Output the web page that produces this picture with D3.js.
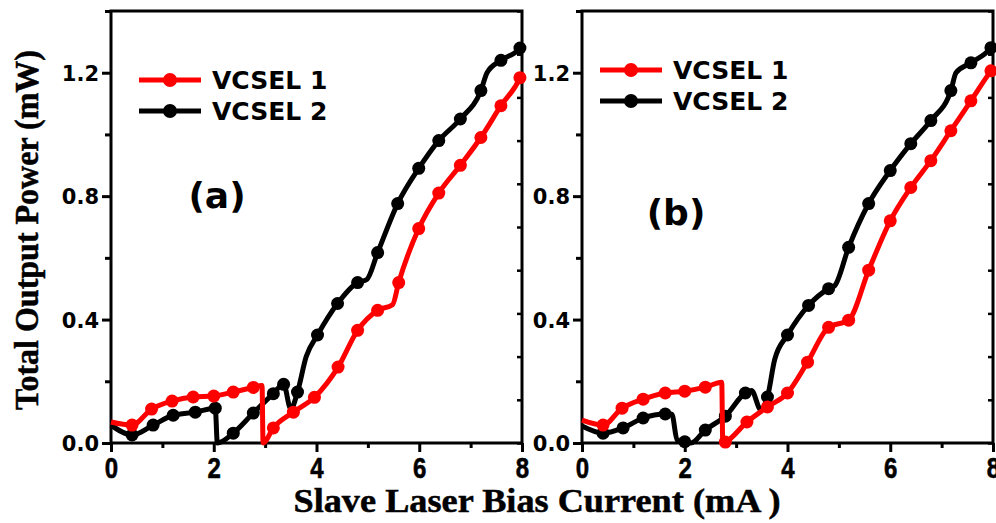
<!DOCTYPE html>
<html>
<head>
<meta charset="utf-8">
<script src="https://cdn.jsdelivr.net/npm/d3@7"></script>
<style>
  html, body { margin: 0; padding: 0; background: #fff; }
  svg { display: block; }
</style>
</head>
<body>
<svg id="chart" width="996" height="523"></svg>
<script>
// Tick values and labels
const xMajorTicks = [0, 2, 4, 6, 8];
const xMinorTicks = [1, 3, 5, 7];
const yMajorTicks = [0, 0.4, 0.8, 1.2];
const yMinorTicks = [0.2, 0.6, 1.0, 1.4];
const yRightTicks = [0, 0.14, 0.28, 0.42, 0.56, 0.7, 0.84, 0.98, 1.12, 1.26, 1.4];

const seriesNames = ["VCSEL 1", "VCSEL 2"];
const seriesColors = ["#ff0000", "#000000"];
const panelLabels = ["(a)", "(b)"];

// Each point: [bias current (mA), total output power (mW), 1 = symbol drawn]
const vcsel1A = [
  [0, 0.068, 0], [0.41, 0.058, 1], [0.79, 0.11, 1], [1.19, 0.136, 1], [1.6, 0.149, 1],
  [2.0, 0.152, 1], [2.38, 0.165, 1], [2.77, 0.18, 1], [2.94, 0.186, 0], [2.96, 0.0, 0],
  [3.16, 0.049, 1], [3.55, 0.1, 1], [3.96, 0.148, 1], [4.42, 0.246, 1], [4.8, 0.365, 1],
  [5.19, 0.43, 1], [5.48, 0.448, 0], [5.6, 0.52, 1], [5.99, 0.695, 1], [6.38, 0.81, 1],
  [6.8, 0.9, 1], [7.2, 0.99, 1], [7.59, 1.093, 1], [7.96, 1.184, 1], [8.0, 1.2, 0]
];
const vcsel2A = [
  [0, 0.058, 0], [0.41, 0.026, 1], [0.82, 0.058, 1], [1.21, 0.09, 1], [1.64, 0.1, 1],
  [2.03, 0.113, 1], [2.07, 0.0, 0], [2.38, 0.032, 1], [2.77, 0.097, 1], [3.16, 0.16, 1],
  [3.36, 0.19, 1], [3.5, 0.11, 0], [3.63, 0.165, 1], [3.8, 0.28, 0], [4.02, 0.35, 1],
  [4.41, 0.452, 1], [4.8, 0.52, 1], [4.98, 0.53, 0], [5.19, 0.617, 1], [5.58, 0.776, 1],
  [5.99, 0.89, 1], [6.38, 0.98, 1], [6.8, 1.05, 1], [7.2, 1.142, 1], [7.32, 1.2, 0],
  [7.59, 1.24, 1], [7.96, 1.28, 1], [8.0, 1.29, 0]
];
const vcsel1B = [
  [0, 0.074, 0], [0.41, 0.058, 1], [0.78, 0.113, 1], [1.19, 0.142, 1], [1.62, 0.162, 1],
  [2.0, 0.168, 1], [2.4, 0.181, 1], [2.72, 0.197, 0], [2.74, 0.0, 0], [2.79, 0.003, 1],
  [3.21, 0.068, 1], [3.61, 0.117, 1], [4.0, 0.162, 1], [4.39, 0.262, 1], [4.8, 0.375, 1],
  [5.19, 0.398, 1], [5.58, 0.56, 1], [6.0, 0.72, 1], [6.4, 0.828, 1], [6.79, 0.915, 1],
  [7.18, 1.012, 1], [7.57, 1.109, 1], [7.96, 1.206, 1], [8.0, 1.215, 0]
];
const vcsel2B = [
  [0, 0.055, 0], [0.41, 0.032, 1], [0.8, 0.049, 1], [1.19, 0.081, 1], [1.62, 0.094, 1],
  [1.75, 0.093, 0], [1.85, 0.01, 0], [2.0, 0.004, 1], [2.12, 0.0, 0], [2.4, 0.042, 1],
  [2.79, 0.087, 1], [3.18, 0.162, 1], [3.3, 0.17, 0], [3.48, 0.108, 0], [3.61, 0.149, 1],
  [3.75, 0.27, 0], [4.0, 0.35, 1], [4.41, 0.446, 1], [4.8, 0.5, 1], [4.92, 0.51, 0],
  [5.19, 0.634, 1], [5.58, 0.776, 1], [6.0, 0.883, 1], [6.4, 0.97, 1], [6.79, 1.045, 1],
  [7.18, 1.142, 1], [7.28, 1.2, 0], [7.57, 1.232, 1], [7.96, 1.281, 1], [8.0, 1.29, 0]
];

const panels = [
  { left: 111, right: 522, label: panelLabels[0], labelPos: [217, 208],
    legend: { x: 139, y: 80, dy: 31 }, series: [vcsel1A, vcsel2A] },
  { left: 582, right: 993, label: panelLabels[1], labelPos: [676, 225],
    legend: { x: 600, y: 70, dy: 31 }, series: [vcsel1B, vcsel2B] }
];
const plotTop = 11, plotBottom = 443;

const svg = d3.select("#chart");
const sansBold = "'DejaVu Sans', 'Liberation Sans', Arial, sans-serif";
const serif = "'Liberation Serif', 'Times New Roman', serif";

panels.forEach(p => {
  const x = d3.scaleLinear().domain([0, 8]).range([p.left, p.right]);
  const y = d3.scaleLinear().domain([0, 1.4]).range([plotBottom, plotTop]);
  const g = svg.append("g");

  // frame
  g.append("rect")
    .attr("x", p.left).attr("y", plotTop)
    .attr("width", p.right - p.left).attr("height", plotBottom - plotTop)
    .attr("fill", "none").attr("stroke", "#000").attr("stroke-width", 3);

  // bottom axis
  const xAxis = g.append("g").attr("transform", `translate(0,${plotBottom})`)
    .call(d3.axisBottom(x).tickValues(xMajorTicks).tickSize(9).tickFormat(d3.format("d")));
  xAxis.select(".domain").remove();
  xAxis.selectAll(".tick line").attr("stroke-width", 3);
  xAxis.selectAll(".tick text").remove();
  xAxis.selectAll(".tick").append("text")
    .attr("transform", "translate(0,35) scale(0.8,1)")
    .attr("text-anchor", "middle")
    .attr("fill", "#000")
    .attr("stroke", "#000")
    .attr("stroke-width", 0.6)
    .style("font-family", "'Liberation Sans', Arial, sans-serif")
    .style("font-weight", "bold")
    .style("font-size", "30px")
    .text(d => d);
  g.append("g").attr("transform", `translate(0,${plotBottom})`)
    .call(d3.axisBottom(x).tickValues(xMinorTicks).tickSize(5).tickFormat(""))
    .call(a => a.select(".domain").remove())
    .selectAll(".tick line").attr("stroke-width", 3);

  // left axis
  const yAxis = g.append("g").attr("transform", `translate(${p.left},0)`)
    .call(d3.axisLeft(y).tickValues(yMajorTicks).tickSize(9).tickPadding(3).tickFormat(d3.format(".1f")));
  yAxis.select(".domain").remove();
  yAxis.selectAll(".tick line").attr("stroke-width", 3);
  yAxis.selectAll(".tick text")
    .attr("fill", "#000")
    .attr("dy", "0.36em")
    .style("font-family", sansBold)
    .style("font-weight", "bold")
    .style("font-size", "21px");
  g.append("g").attr("transform", `translate(${p.left},0)`)
    .call(d3.axisLeft(y).tickValues(yMinorTicks).tickSize(6).tickFormat(""))
    .call(a => a.select(".domain").remove())
    .selectAll(".tick line").attr("stroke-width", 3);

  // right axis, inward ticks
  g.append("g").attr("transform", `translate(${p.right},0)`)
    .call(d3.axisRight(y).tickValues(yRightTicks).tickSize(-5).tickFormat(""))
    .call(a => a.select(".domain").remove())
    .selectAll(".tick line").attr("stroke-width", 2.5);

  // curves
  const line = d3.line()
    .x(d => x(d[0])).y(d => y(d[1]))
    .curve(d3.curveMonotoneX);

  // VCSEL 2 first, VCSEL 1 on top
  [1, 0].forEach(i => {
    const data = p.series[i];
    g.append("path").datum(data)
      .attr("d", line)
      .attr("fill", "none")
      .attr("stroke", seriesColors[i])
      .attr("stroke-width", 5)
      .attr("stroke-linejoin", "round");
    g.selectAll(null).data(data.filter(d => d[2] === 1)).join("circle")
      .attr("cx", d => x(d[0])).attr("cy", d => y(d[1]))
      .attr("r", 6.5).attr("fill", seriesColors[i]);
  });

  // legend
  seriesNames.forEach((name, i) => {
    const ly = p.legend.y + i * p.legend.dy;
    const lg = g.append("g");
    lg.append("line")
      .attr("x1", p.legend.x).attr("x2", p.legend.x + 62)
      .attr("y1", ly).attr("y2", ly)
      .attr("stroke", seriesColors[i]).attr("stroke-width", 5);
    lg.append("circle")
      .attr("cx", p.legend.x + 31).attr("cy", ly).attr("r", 7)
      .attr("fill", seriesColors[i]);
    lg.append("text")
      .attr("x", p.legend.x + 73).attr("y", ly + 9)
      .attr("fill", "#000")
      .style("font-family", sansBold)
      .style("font-weight", "bold")
      .style("font-size", "25px")
      .text(name);
  });

  // panel label
  g.append("text")
    .attr("x", p.labelPos[0]).attr("y", p.labelPos[1])
    .attr("text-anchor", "middle")
    .attr("fill", "#000")
    .style("font-family", sansBold)
    .style("font-weight", "bold")
    .style("font-size", "36px")
    .text(p.label);
});

// axis titles
svg.append("text")
  .attr("transform", "translate(38,230) rotate(-90)")
  .attr("text-anchor", "middle")
  .attr("textLength", 360)
  .attr("lengthAdjust", "spacingAndGlyphs")
  .attr("fill", "#000")
  .attr("stroke", "#000")
  .attr("stroke-width", 0.5)
  .style("font-family", serif)
  .style("font-weight", "bold")
  .style("font-size", "34px")
  .text("Total Output Power (mW)");

svg.append("text")
  .attr("x", 537).attr("y", 512)
  .attr("text-anchor", "middle")
  .attr("textLength", 487)
  .attr("lengthAdjust", "spacingAndGlyphs")
  .attr("fill", "#000")
  .attr("stroke", "#000")
  .attr("stroke-width", 0.5)
  .style("font-family", serif)
  .style("font-weight", "bold")
  .style("font-size", "34px")
  .text("Slave Laser Bias Current (mA )");
</script>
</body>
</html>
